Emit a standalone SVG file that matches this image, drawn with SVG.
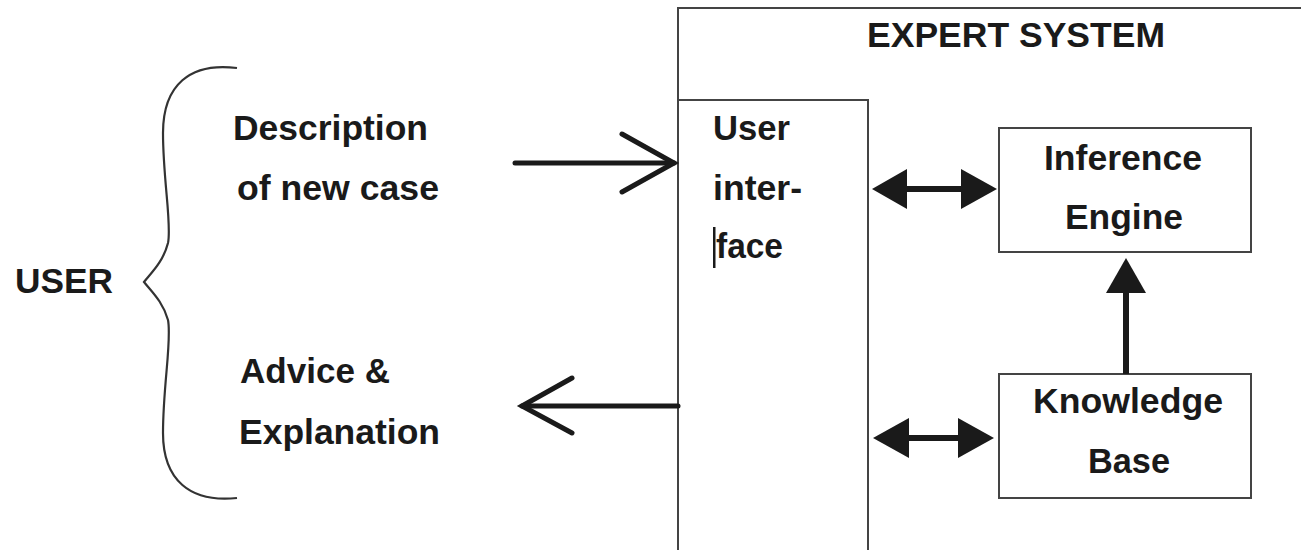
<svg xmlns="http://www.w3.org/2000/svg" width="1301" height="550" viewBox="0 0 1301 550">
<defs>
<style>
.box{fill:#fff;stroke:#444;stroke-width:2}
.t{font-family:"Liberation Sans",Arial,sans-serif;font-weight:bold;font-size:35px;fill:#1a1a1a}
.open{fill:none;stroke:#1a1a1a;stroke-width:5;stroke-linecap:round;stroke-linejoin:miter}
.thick{stroke:#1a1a1a;stroke-width:6;fill:none}
.head{fill:#1a1a1a}
</style>
</defs>
<rect width="1301" height="550" fill="#fff"/>
<g id="expert-system">
<rect class="box" x="678" y="8" width="640" height="560"/>
<text class="t" x="867" y="47" textLength="298" lengthAdjust="spacingAndGlyphs">EXPERT SYSTEM</text>
</g>
<g id="user">
<path d="M237,68 C190,62 163,85 163,133 C163,180 172,225 168,243 C163,262 152,272 144,282 C152,292 163,302 168,320 C172,340 163,385 163,433 C163,480 190,503 237,498" fill="none" stroke="#333" stroke-width="2.2"/>
<text class="t" x="15" y="293" textLength="98" lengthAdjust="spacingAndGlyphs">USER</text>
</g>
<g id="labels">
<text class="t" x="233" y="140" textLength="195" lengthAdjust="spacingAndGlyphs">Description</text>
<text class="t" x="237" y="200" textLength="202" lengthAdjust="spacingAndGlyphs">of new case</text>
<text class="t" x="240" y="383" textLength="150" lengthAdjust="spacingAndGlyphs">Advice &amp;</text>
<text class="t" x="239" y="444" textLength="201" lengthAdjust="spacingAndGlyphs">Explanation</text>
</g>
<g id="user-interface">
<rect class="box" x="678" y="100" width="190" height="470"/>
<text class="t" x="713" y="140" textLength="77" lengthAdjust="spacingAndGlyphs">User</text>
<text class="t" x="713" y="200" textLength="89" lengthAdjust="spacingAndGlyphs">inter-</text>
<text class="t" x="716" y="258" textLength="67" lengthAdjust="spacingAndGlyphs">face</text>
<rect x="713" y="227" width="2.5" height="41" fill="#1a1a1a"/>
</g>
<g id="inference-engine">
<rect class="box" x="999" y="128" width="252" height="124"/>
<text class="t" x="1044" y="170" textLength="158" lengthAdjust="spacingAndGlyphs">Inference</text>
<text class="t" x="1065" y="229" textLength="118" lengthAdjust="spacingAndGlyphs">Engine</text>
</g>
<g id="knowledge-base">
<rect class="box" x="999" y="374" width="252" height="124"/>
<text class="t" x="1033" y="413" textLength="190" lengthAdjust="spacingAndGlyphs">Knowledge</text>
<text class="t" x="1088" y="473" textLength="82" lengthAdjust="spacingAndGlyphs">Base</text>
</g>
<g id="connectors">
<line class="open" x1="515" y1="163" x2="674" y2="163"/>
<polyline class="open" points="622,134 674,163 622,192"/>
<line class="open" x1="678" y1="406" x2="522" y2="406"/>
<polyline class="open" points="572,378 522,406 572,433"/>
<line class="thick" x1="900" y1="189" x2="970" y2="189"/>
<polygon class="head" points="872,189 907,169 907,209"/>
<polygon class="head" points="997,189 961,169 961,209"/>
<line class="thick" x1="900" y1="438" x2="965" y2="438"/>
<polygon class="head" points="873,438 909,418 909,458"/>
<polygon class="head" points="994,438 958,418 958,458"/>
<line class="thick" x1="1126" y1="374" x2="1126" y2="285"/>
<polygon class="head" points="1126,258 1106,293 1146,293"/>
</g>
</svg>
